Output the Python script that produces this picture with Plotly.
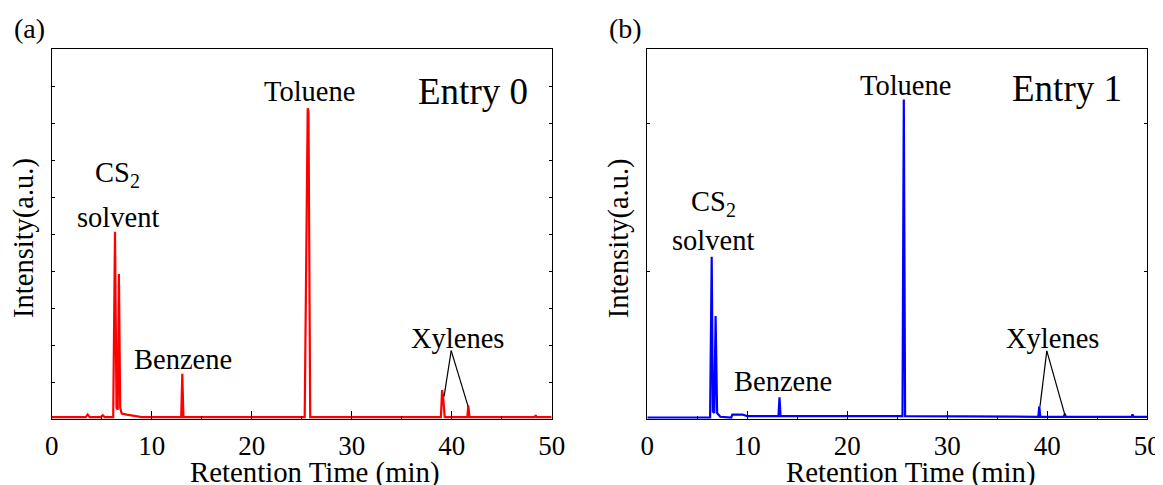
import plotly.graph_objects as go

# ---------------- data ----------------
# Entry 0 chromatogram (red): retention time (min) / intensity (a.u., 0-10 scale)
time_a = [0, 3.4, 3.6, 3.8, 4.9, 5.1, 5.3, 6.15, 6.33, 6.48, 6.6, 6.72, 6.85,
          7.0, 7.5, 8.5, 9.0, 12.95, 13.06, 13.17, 25.3, 25.6, 25.68, 25.85,
          38.92, 39.04, 39.14, 39.3, 41.56, 41.66, 41.78, 48.3, 48.4, 48.5, 50]
intensity_a = [0.05, 0.05, 0.12, 0.05, 0.05, 0.1, 0.05, 0.05, 5.06, 0.3, 0.25,
               3.92, 0.3, 0.15, 0.12, 0.08, 0.05, 0.05, 1.22, 0.05, 0.05, 8.4,
               8.3, 0.05, 0.05, 0.78, 0.6, 0.05, 0.05, 0.36, 0.05, 0.05, 0.1,
               0.05, 0.05]

# Entry 1 chromatogram (blue): retention time (min) / intensity (a.u., 0-2.5 scale)
time_b = [0, 6.28, 6.44, 6.56, 6.7, 6.83, 6.98, 7.3, 8.4, 8.5, 9.5, 10, 13.12,
          13.22, 13.32, 25.52, 25.65, 25.78, 39.1, 39.2, 39.3, 41.65, 41.75,
          41.85, 48.42, 48.52, 48.62, 50]
intensity_b = [0.01, 0.01, 1.096, 0.05, 0.04, 0.696, 0.04, 0.015, 0.01, 0.03,
               0.03, 0.02, 0.02, 0.146, 0.02, 0.02, 2.158, 0.02, 0.015, 0.085,
               0.015, 0.015, 0.035, 0.015, 0.015, 0.03, 0.015, 0.015]

x_tickvals = [0, 10, 20, 30, 40, 50]
x_ticktext = ["0", "10", "20", "30", "40", "50"]
x_minor_ticks = [0, 5, 10, 15, 20, 25, 30, 35, 40, 45, 50]

# peak labels: (text, time, intensity)
labels_a = [("CS<sub>2</sub>", 6.59, 6.62), ("solvent", 6.62, 5.45),
            ("Benzene", 13.08, 1.62), ("Toluene", 25.76, 8.85),
            ("Xylenes", 40.61, 2.17)]
labels_b = [("CS<sub>2</sub>", 6.57, 1.457), ("solvent", 6.53, 1.204),
            ("Benzene", 13.53, 0.253), ("Toluene", 25.78, 2.256),
            ("Xylenes", 40.53, 0.544)]

# xylene pointer lines: apex -> peak tops
xyl_apex_a = (39.95, 1.85)
xyl_ends_a = [(39.24, 0.61), (41.64, 0.34)]
xyl_apex_b = (39.95, 0.46)
xyl_ends_b = [(39.27, 0.085), (41.75, 0.03)]

# ---------------- figure ----------------
FONT = "Liberation Serif, Times New Roman, serif"
W, H = 1163, 485
PAGE_OFFSET = 8  # default body margin of the page

fig = go.Figure()
fig.add_trace(go.Scatter(x=time_a, y=intensity_a, mode="lines",
                         line=dict(color="#ff0000", width=2.2),
                         xaxis="x", yaxis="y", showlegend=False))
fig.add_trace(go.Scatter(x=time_b, y=intensity_b, mode="lines",
                         line=dict(color="#0000ff", width=2.2),
                         xaxis="x2", yaxis="y2", showlegend=False))

def px_x(p):
    return (p - PAGE_OFFSET) / W

def px_y(p):
    return 1 - (p - PAGE_OFFSET) / H

ydom = [px_y(419), px_y(49)]
xdom_a = [px_x(51.7), px_x(551.7)]
xdom_b = [px_x(647.3), px_x(1147.3)]

xbottom = dict(range=[0, 50], tickmode="array", tickvals=x_tickvals,
               ticktext=x_ticktext, ticks="inside", ticklen=8, tickwidth=1,
               tickcolor="black", showline=True, linecolor="black",
               linewidth=1.2, mirror=True, showgrid=False, zeroline=False,
               ticklabelstandoff=2, automargin=False,
               tickfont=dict(family=FONT, size=27, color="black"),
               minor=dict(tickmode="array", tickvals=x_minor_ticks,
                          ticks="inside", ticklen=3, tickcolor="black",
                          tickwidth=1, showgrid=False))
xtop = dict(range=[0, 50], tickmode="array", tickvals=x_minor_ticks,
            ticks="inside", ticklen=2, tickwidth=1, tickcolor="black",
            showline=False, showgrid=False, zeroline=False,
            showticklabels=False, side="top", automargin=False)
ycommon = dict(ticks="inside", ticklen=3, tickwidth=1, tickcolor="black",
               showline=True, linecolor="black", linewidth=1.2,
               mirror="allticks", showgrid=False, zeroline=False,
               showticklabels=False, automargin=False)

fig.update_layout(
    width=W, height=H,
    margin=dict(l=0, r=0, t=0, b=0, pad=0, autoexpand=False),
    paper_bgcolor="white", plot_bgcolor="white",
    font=dict(family=FONT, color="black"),
    xaxis=dict(domain=xdom_a, anchor="y", **xbottom),
    yaxis=dict(domain=ydom, anchor="x", range=[0, 10], dtick=1, tick0=0, **ycommon),
    xaxis2=dict(domain=xdom_b, anchor="y2", **xbottom),
    yaxis2=dict(domain=ydom, anchor="x2", range=[0, 2.5], dtick=1, tick0=0, **ycommon),
    xaxis3=dict(overlaying="x", anchor="y", **xtop),
    xaxis4=dict(overlaying="x2", anchor="y2", **xtop),
)

LABEL_SIZE = 28.5
annotations = []
for text, t, v in labels_a:
    annotations.append(dict(text=text, x=t, y=v, xref="x", yref="y",
                            xanchor="center", yanchor="middle",
                            showarrow=False, font=dict(family=FONT, size=LABEL_SIZE)))
for text, t, v in labels_b:
    annotations.append(dict(text=text, x=t, y=v, xref="x2", yref="y2",
                            xanchor="center", yanchor="middle",
                            showarrow=False, font=dict(family=FONT, size=LABEL_SIZE)))

def paper_text(text, cx, cy, size, angle=0):
    return dict(text=text, x=px_x(cx), y=px_y(cy), xref="paper", yref="paper",
                xanchor="center", yanchor="middle", showarrow=False,
                textangle=angle, font=dict(family=FONT, size=size))

# entry titles
annotations.append(paper_text("Entry 0", 473, 91, 37))
annotations.append(paper_text("Entry 1", 1067, 89, 37))
# panel letters
annotations.append(paper_text("(a)", 29.4, 29, 28))
annotations.append(paper_text("(b)", 625.8, 29, 28))
# axis titles
for cx in (314.5, 910.6):
    annotations.append(paper_text("Retention Time (min)", cx, 472, 28.8))
for cx in (23.9, 619.3):
    annotations.append(paper_text("Intensity(a.u.)", cx, 238, 28.5, -90))
fig.update_layout(annotations=annotations)

shapes = []
for (ex, ey) in xyl_ends_a:
    shapes.append(dict(type="line", xref="x", yref="y", x0=xyl_apex_a[0],
                       y0=xyl_apex_a[1], x1=ex, y1=ey,
                       line=dict(color="black", width=1.2)))
for (ex, ey) in xyl_ends_b:
    shapes.append(dict(type="line", xref="x2", yref="y2", x0=xyl_apex_b[0],
                       y0=xyl_apex_b[1], x1=ex, y1=ey,
                       line=dict(color="black", width=1.2)))
fig.update_layout(shapes=shapes)

fig.write_html("out.html")
